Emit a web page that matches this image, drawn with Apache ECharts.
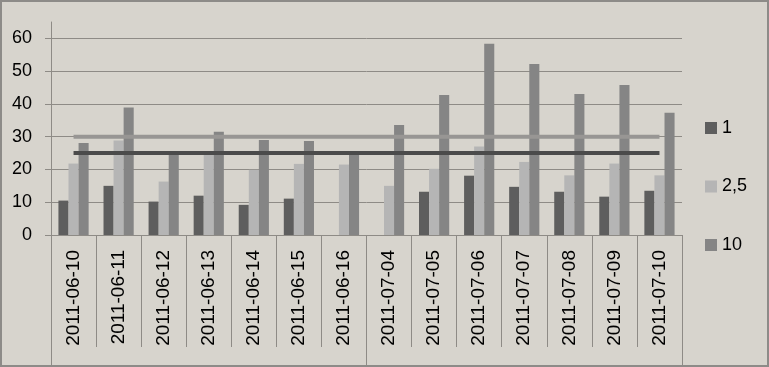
<!DOCTYPE html>
<html><head><meta charset="utf-8">
<script src="https://cdn.jsdelivr.net/npm/echarts@6/dist/echarts.min.js"></script>
<style>html,body{margin:0;padding:0;background:#d7d4cd}#c{width:769px;height:367px;box-sizing:border-box;border:2px solid #8d8b88}</style>
</head><body><div id="c"></div>
<script>
const categories = ['2011-06-10','2011-06-11','2011-06-12','2011-06-13','2011-06-14','2011-06-15','2011-06-16','2011-07-04','2011-07-05','2011-07-06','2011-07-07','2011-07-08','2011-07-09','2011-07-10'];
const groups = ['', ''];
const s1 = [10.5, 15.0, 10.2, 12.0, 9.2, 11.1, null, null, 13.2, 18.1, 14.7, 13.2, 11.7, 13.5];
const s25 = [21.8, 28.8, 16.3, 24.6, 19.9, 21.7, 21.5, 15.0, 20.2, 27.0, 22.3, 18.2, 21.8, 18.2];
const s10 = [28.1, 38.9, 24.9, 31.5, 29.0, 28.7, 24.9, 33.6, 42.7, 58.4, 52.2, 43.0, 45.8, 37.3];
const lineLow = [25,25,25,25,25,25,25,25,25,25,25,25,25,25];
const lineHigh = [30,30,30,30,30,30,30,30,30,30,30,30,30,30];
const yTicks = [0, 10, 20, 30, 40, 50, 60];

const chart = echarts.init(document.getElementById('c'), null, {renderer: 'canvas'});
const font = 'Liberation Sans';
chart.setOption({
  backgroundColor: '#d7d4cd',
  animation: false,
  textStyle: {fontFamily: font},
  grid: {left: 49, right: 85, top: 20, bottom: 130},
  legend: {
    orient: 'vertical', left: 703, top: 117, padding: 0,
    itemWidth: 12, itemHeight: 12, itemGap: 40.5,
    icon: 'rect',
    data: ['1', '2,5', '10'],
    textStyle: {fontSize: 18, lineHeight: 18, color: '#000', fontFamily: font}
  },
  xAxis: [{
    type: 'category', data: categories, position: 'bottom',
    axisLine: {show: true, lineStyle: {color: '#8e8b86', width: 1}},
    axisTick: {show: true, interval: 0, length: 112, lineStyle: {color: '#8e8b86'}},
    axisLabel: {rotate: 90, interval: 0, margin: 15, fontSize: 19, color: '#000', fontFamily: font}
  }, {
    type: 'category', data: groups, position: 'bottom',
    axisLine: {show: false},
    axisTick: {show: true, interval: 0, length: 132, lineStyle: {color: '#8e8b86'}},
    axisLabel: {show: false}
  }],
  yAxis: {
    type: 'value', min: 0, max: 65, interval: 10,
    axisLine: {show: true, lineStyle: {color: '#8e8b86'}},
    axisTick: {show: true, length: 6, lineStyle: {color: '#8e8b86'}},
    axisLabel: {fontSize: 18, color: '#000', margin: 19, fontFamily: font, showMaxLabel: false,
      formatter: v => yTicks.indexOf(v) >= 0 ? String(v) : ''},
    splitLine: {show: true, showMaxLine: false, lineStyle: {color: '#8e8b86', width: 1}}
  },
  series: [
    {name: '1', type: 'bar', data: s1, barGap: '0%', barCategoryGap: '33%', itemStyle: {color: '#5e5e5e'}},
    {name: '2,5', type: 'bar', data: s25, barGap: '0%', barCategoryGap: '33%', itemStyle: {color: '#b5b5b5'}},
    {name: '10', type: 'bar', data: s10, barGap: '0%', barCategoryGap: '33%', itemStyle: {color: '#858585'}},
    {name: 'low', type: 'line', data: lineLow, symbol: 'none', z: 5, lineStyle: {color: '#4b4b4b', width: 4}, itemStyle: {color: '#4b4b4b'}},
    {name: 'high', type: 'line', data: lineHigh, symbol: 'none', z: 5, lineStyle: {color: '#989694', width: 4}, itemStyle: {color: '#989694'}}
  ]
});
</script></body></html>
